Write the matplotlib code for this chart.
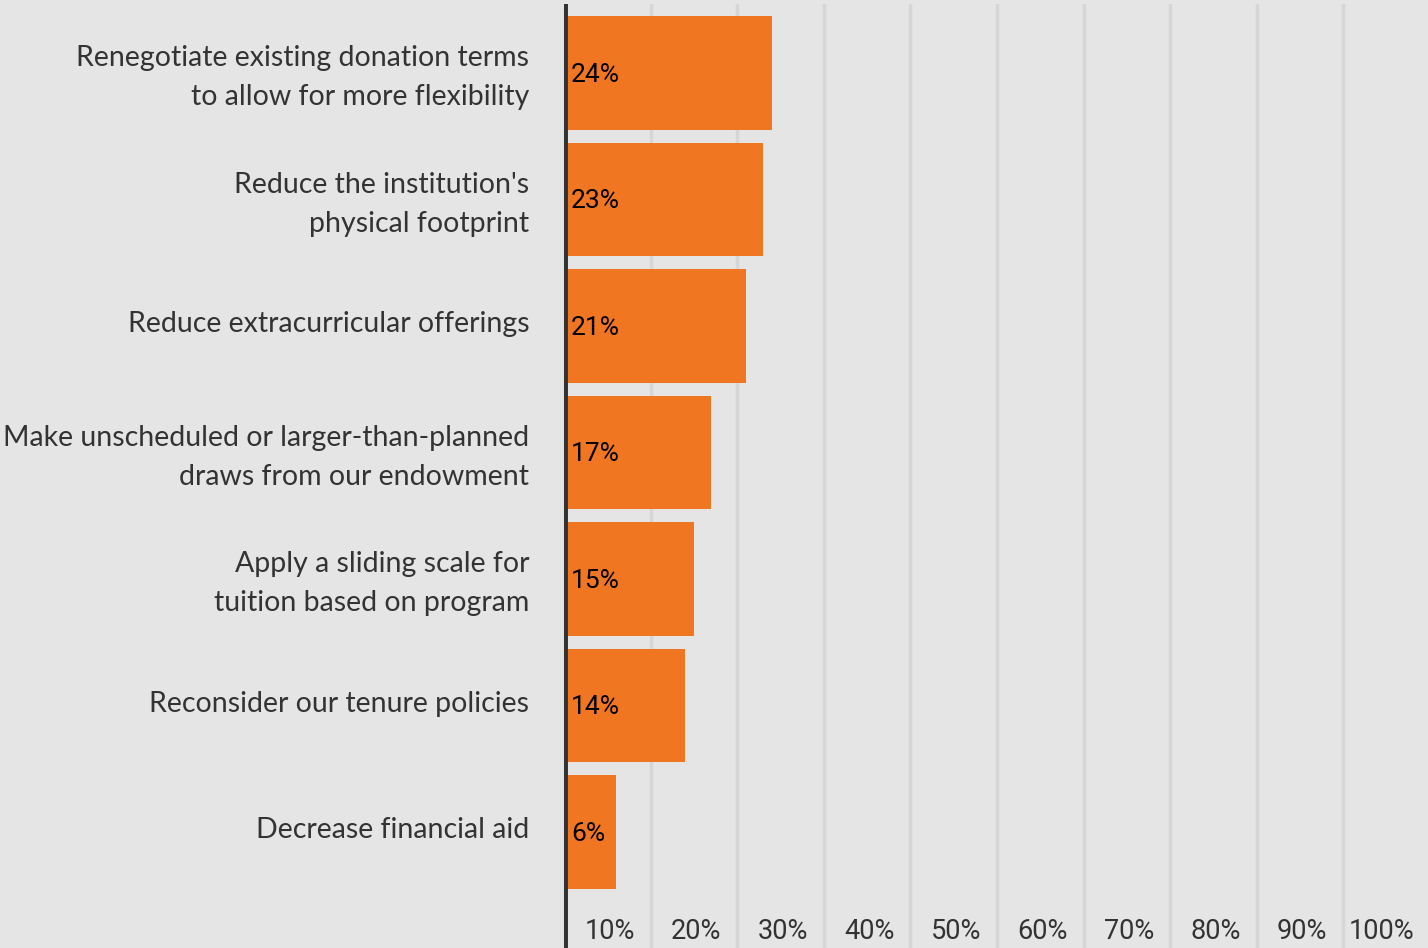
import matplotlib.pyplot as plt
from matplotlib.transforms import offset_copy, blended_transform_factory, ScaledTranslation

# data
categories = [
    "Renegotiate existing donation terms\nto allow for more flexibility",
    "Reduce the institution's\nphysical footprint",
    "Reduce extracurricular offerings",
    "Make unscheduled or larger-than-planned\ndraws from our endowment",
    "Apply a sliding scale for\ntuition based on program",
    "Reconsider our tenure policies",
    "Decrease financial aid",
]
values = [24, 23, 21, 17, 15, 14, 6]
tick_values = [10, 20, 30, 40, 50, 60, 70, 80, 90, 100]
tick_labels = ["10%", "20%", "30%", "40%", "50%", "60%", "70%", "80%", "90%", "100%"]

bg = "#e5e5e5"
bar_color = "#f07622"
text_color = "#333333"

W, H = 1428, 948
fig = plt.figure(figsize=(W / 100, H / 100), dpi=100, facecolor=bg)
ax = fig.add_axes([564 / W, 0, 866 / W, 944 / H])
ax.set_facecolor(bg)

pos = list(range(len(values)))
ax.barh(pos, values, height=0.9, color=bar_color, zorder=2)
ax.set_xlim(0, 100)
ax.set_ylim(6.917, -0.545)

# gridlines
for v in tick_values:
    ax.axvline(v, color="#d6d6d6", lw=2.5, zorder=1)
ax.axvline(0, color="#333333", lw=5, zorder=3)

for s in ax.spines.values():
    s.set_visible(False)

ax.set_xticks([])
ax.set_yticks(pos)
ax.set_yticklabels(categories, fontsize=20.5, family="Lato", color=text_color,
                   linespacing=1.62)
ax.tick_params(axis="y", length=0, pad=25)
# nudge category labels up a few pixels
for lab in ax.get_yticklabels():
    lab.set_transform(lab.get_transform() + ScaledTranslation(0, 4 / 100, fig.dpi_scale_trans))

# bar value labels
tr = offset_copy(ax.transData, fig=fig, x=7, y=-2, units="dots")
for p, v in zip(pos, values):
    ax.text(0, p, f"{v}%", transform=tr, ha="left", va="center",
            fontsize=19, family="Roboto", color="black", zorder=4)

# bottom tick labels, placed left of each gridline
btr = offset_copy(blended_transform_factory(ax.transData, ax.transAxes),
                  fig=fig, x=-16, y=0, units="dots")
for v, lab in zip(tick_values, tick_labels):
    ax.text(v, 0.0095, lab, transform=btr, ha="right", va="baseline",
            fontsize=19.5, family="Roboto", color=text_color, zorder=4)

fig.savefig("out.png", dpi=100, facecolor=bg)
